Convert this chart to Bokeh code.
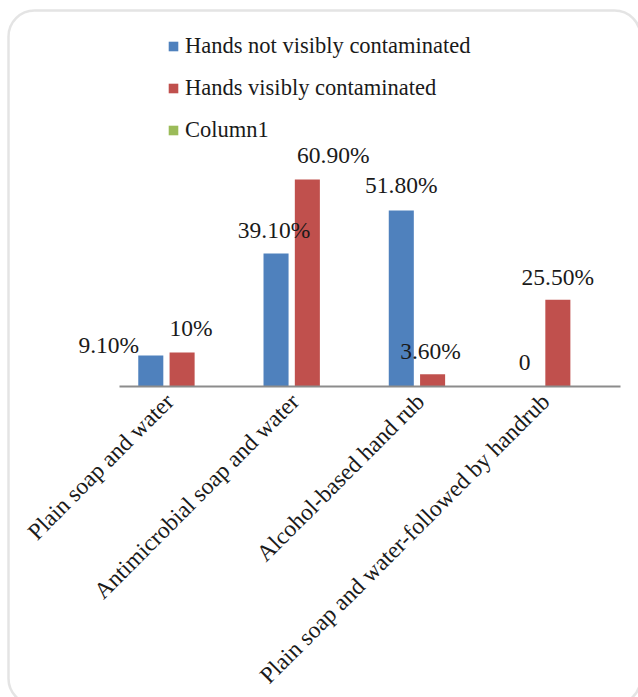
import math
from bokeh.plotting import figure
from bokeh.models import (ColumnDataSource, Legend, LegendItem, BoxAnnotation, Range1d, LabelSet,
                          FixedTicker, LinearAxis)
from bokeh.transform import dodge
from bokeh.core.properties import value
from bokeh.embed import file_html
from bokeh.resources import INLINE

categories = ["Plain soap and water", "Antimicrobial soap and water",
              "Alcohol-based hand rub", "Plain soap and water-followed by handrub"]
not_contaminated = [9.1, 39.1, 51.8, 0]
contaminated = [10, 60.9, 3.6, 25.5]
column1 = [None, None, None, None]   # empty series in the source chart
not_contaminated_labels = ["9.10%", "39.10%", "51.80%", "0"]
contaminated_labels = ["10%", "60.90%", "3.60%", "25.50%"]
series_names = ["Hands not visibly contaminated", "Hands visibly contaminated", "Column1"]

# label nudges (screen px), styling only
blue_dx = [-42, -2, 0, -2]
blue_dy = [11, 24, 25, 24]
red_dx = [9, 26, -2, 0]
red_dy = [25, 24, 23, 23]

BLUE = "#4F81BD"
RED = "#C0504D"
GREEN = "#9BBB59"
FONT = "'Liberation Serif', 'Times New Roman', serif"
TEXT = "#1a1a1a"

W_PX, H_PX = 638, 697
idx = list(range(len(categories)))

src_blue = ColumnDataSource(dict(x=idx, val=not_contaminated, lab=not_contaminated_labels,
                                 dx=blue_dx, dy=blue_dy))
src_red = ColumnDataSource(dict(x=idx, val=contaminated, lab=contaminated_labels,
                                dx=red_dx, dy=red_dy))
src_green = ColumnDataSource(dict(x=idx, val=[float("nan") if v is None else v for v in column1]))

# frame covers the whole canvas; the category axis is pinned at y = 0
cat_px = 125.25      # pixels per category
x0_px = 181.6        # pixel position of the first category centre
y0_px = 386          # pixel position of the baseline
pct_px = 3.4         # pixels per percentage point
x_range = Range1d(-x0_px / cat_px, (W_PX - x0_px) / cat_px)
y_range = Range1d(-(H_PX - y0_px) / pct_px, y0_px / pct_px)

p = figure(width=W_PX, height=H_PX, x_range=x_range, y_range=y_range,
           output_backend="svg", toolbar_location=None, x_axis_location=None, y_axis_location=None,
           min_border=0, min_border_left=0, min_border_right=0, min_border_top=0, min_border_bottom=0)
p.outline_line_color = None
p.background_fill_color = "white"
p.border_fill_color = "white"
p.xgrid.visible = False
p.ygrid.visible = False

W = 0.2
rb = p.vbar(x=dodge("x", -0.25), top="val", width=W, source=src_blue,
            fill_color=BLUE, line_color=None)
rr = p.vbar(x=dodge("x", 0.0), top="val", width=W, source=src_red,
            fill_color=RED, line_color=None)
rg = p.vbar(x=dodge("x", 0.25), top="val", width=W, source=src_green,
            fill_color=GREEN, line_color=None)

for src, off in ((src_blue, -0.25), (src_red, 0.0)):
    ls = LabelSet(x=dodge("x", off), y="val", text="lab", source=src,
                  x_offset="dx", y_offset="dy", text_align="center", text_baseline="middle",
                  text_font=value(FONT), text_font_size=value("23.5px"), text_color=value(TEXT))
    p.add_layout(ls)

# rotated category labels: anchor nudged a little left so the text ends at the category centre
label_shift = round(-12 / cat_px, 2)
tick_pos = [round(i + label_shift, 2) for i in idx]
ax = LinearAxis(fixed_location=0, bounds=(-0.5, len(categories) - 0.5),
                ticker=FixedTicker(ticks=tick_pos),
                major_label_overrides={t: c for t, c in zip(tick_pos, categories)})
ax.major_label_orientation = math.pi / 4
ax.major_label_text_font = FONT
ax.major_label_text_font_size = "23.5px"
ax.major_label_text_color = TEXT
ax.major_tick_line_color = None
ax.minor_tick_line_color = None
ax.axis_line_color = "#8c8c8c"
ax.axis_line_width = 2
ax.major_label_standoff = 5
p.add_layout(ax, "below")

legend = Legend(items=[LegendItem(label=series_names[0], renderers=[rb]),
                       LegendItem(label=series_names[1], renderers=[rr]),
                       LegendItem(label=series_names[2], renderers=[rg])],
                location=(167, H_PX - 143))
legend.label_text_font = FONT
legend.label_text_font_size = "22.5px"
legend.label_text_color = TEXT
legend.glyph_width = 12
legend.glyph_height = 12
legend.label_standoff = 6
legend.label_height = 22
legend.spacing = 16
legend.padding = 0
legend.margin = 0
legend.border_line_color = None
legend.background_fill_alpha = 0
p.add_layout(legend, "center")

border = BoxAnnotation(left=8, right=640, top=10, bottom=704,
                       left_units="canvas", right_units="canvas", top_units="canvas", bottom_units="canvas",
                       fill_alpha=0, line_color="#a6a6a6", line_width=2.5, border_radius=26)
p.add_layout(border)

open("out.html", "w").write(file_html(p, INLINE))
